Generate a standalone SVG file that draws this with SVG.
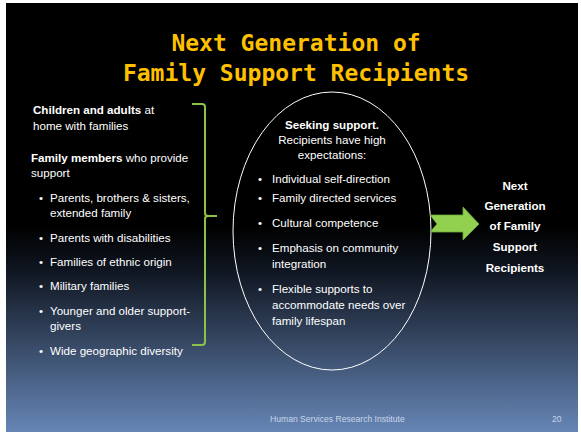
<svg xmlns="http://www.w3.org/2000/svg" width="581" height="432" viewBox="0 0 581 432">
  <defs>
    <linearGradient id="bg" gradientUnits="userSpaceOnUse" x1="0" y1="3" x2="0" y2="432">
      <stop offset="0" stop-color="#000"/>
      <stop offset="0.52" stop-color="#000"/>
      <stop offset="0.62" stop-color="#0f1520"/>
      <stop offset="1" stop-color="#6686b6"/>
    </linearGradient>
    <style>
      .title { font-family: "DejaVu Sans Mono", "Liberation Mono", monospace; font-weight: bold; font-size: 23px; fill: #FFC000; text-anchor: middle; }
      .t { font-family: "Liberation Sans", Arial, sans-serif; font-size: 11.6px; fill: #fff; }
      .b { font-weight: bold; }
      .c { text-anchor: middle; }
      .foot { font-family: "Liberation Sans", Arial, sans-serif; font-size: 8.6px; fill: #c9d5e8; }
      .brace { fill: none; stroke: #8BC34A; stroke-width: 2; stroke-linejoin: round; }
    </style>
  </defs>
  <rect x="0" y="0" width="581" height="432" fill="#fff"/>
  <rect x="6" y="3" width="572" height="429" fill="url(#bg)"/>

  <g id="title">
    <text class="title" x="296" y="51">Next Generation of</text>
    <text class="title" x="296" y="81">Family Support Recipients</text>
  </g>

  <g id="left-list">
    <text class="t" x="33" y="114"><tspan class="b">Children and adults</tspan> at</text>
    <text class="t" x="33" y="130">home with families</text>
    <text class="t" x="31" y="162"><tspan class="b">Family members</tspan> who provide</text>
    <text class="t" x="31" y="177">support</text>
    <text class="t" x="39" y="202">•</text>
    <text class="t" x="50" y="202">Parents, brothers &amp; sisters,</text>
    <text class="t" x="50" y="217">extended family</text>
    <text class="t" x="39" y="242">•</text>
    <text class="t" x="50" y="242">Parents with disabilities</text>
    <text class="t" x="39" y="266">•</text>
    <text class="t" x="50" y="266">Families of ethnic origin</text>
    <text class="t" x="39" y="290">•</text>
    <text class="t" x="50" y="290">Military families</text>
    <text class="t" x="39" y="315">•</text>
    <text class="t" x="50" y="315">Younger and older support-</text>
    <text class="t" x="50" y="330">givers</text>
    <text class="t" x="39" y="355">•</text>
    <text class="t" x="50" y="355">Wide geographic diversity</text>
  </g>

  <g id="ellipse-node">
    <ellipse cx="332" cy="231" rx="99" ry="139" fill="none" stroke="#fff" stroke-width="1"/>
    <text class="t b c" x="332" y="129">Seeking support.</text>
    <text class="t c" x="332" y="144">Recipients have high</text>
    <text class="t c" x="332" y="159">expectations:</text>
    <text class="t" x="258" y="183">•</text>
    <text class="t" x="272" y="183">Individual self-direction</text>
    <text class="t" x="258" y="202">•</text>
    <text class="t" x="272" y="202">Family directed services</text>
    <text class="t" x="258" y="227">•</text>
    <text class="t" x="272" y="227">Cultural competence</text>
    <text class="t" x="258" y="252">•</text>
    <text class="t" x="272" y="252">Emphasis on community</text>
    <text class="t" x="272" y="268">integration</text>
    <text class="t" x="258" y="293">•</text>
    <text class="t" x="272" y="293">Flexible supports to</text>
    <text class="t" x="272" y="309">accommodate needs over</text>
    <text class="t" x="272" y="325">family lifespan</text>
  </g>

  <g id="result-node">
    <text class="t b c" x="515" y="190">Next</text>
    <text class="t b c" x="515" y="210">Generation</text>
    <text class="t b c" x="515" y="230">of Family</text>
    <text class="t b c" x="515" y="251">Support</text>
    <text class="t b c" x="515" y="272">Recipients</text>
  </g>

  <g id="connectors">
    <path class="brace" d="M192,104 L202,104 Q205,104 205,107 L205,213 Q205,216 208,216 L217,216 M208,216 Q205,216 205,219 L205,342 Q205,345 202,345 L192,345"/>
    <polygon points="430,215 463,215 463,207 479,224 463,240 463,232 430,232 437,224" fill="#92D050" stroke="#6FA83A" stroke-width="0.8"/>
  </g>

  <g id="footer">
    <text class="foot" x="270" y="422">Human Services Research Institute</text>
    <text class="foot" x="552" y="422">20</text>
  </g>
</svg>
